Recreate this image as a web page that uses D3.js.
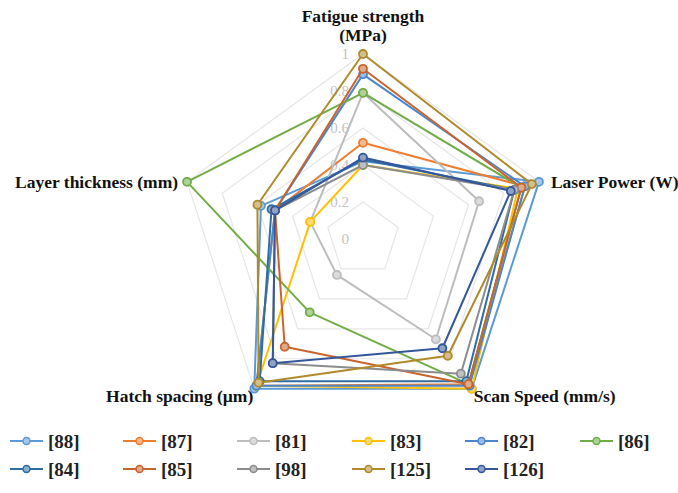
<!DOCTYPE html>
<html>
<head>
<meta charset="utf-8">
<script src="https://cdn.jsdelivr.net/npm/d3@7"></script>
<style>
  html, body { margin: 0; padding: 0; background: #fff; }
  svg { display: block; }
</style>
</head>
<body>
<svg id="chart" width="678" height="493"></svg>
<script>
// Radar axes, clockwise from the top
const axes = ["Fatigue strength (MPa)", "Laser Power (W)", "Scan Speed (mm/s)", "Hatch spacing (µm)", "Layer thickness (mm)"];
const ticks = [0, 0.2, 0.4, 0.6, 0.8, 1];

// Normalised values per study: [fatigue, laser power, scan speed, hatch spacing, layer thickness]
const names = ["[88]", "[87]", "[81]", "[83]", "[82]", "[86]", "[84]", "[85]", "[98]", "[125]", "[126]"];
const s88  = [0.42, 1.00, 1.00, 1.00, 0.58];
const s87  = [0.52, 0.92, 0.97, 0.98, 0.50];
const s81  = [0.79, 0.66, 0.67, 0.24, 0.30];
const s83  = [0.40, 0.88, 1.00, 0.98, 0.30];
const s82  = [0.89, 0.92, 0.98, 0.98, 0.50];
const s86  = [0.79, 0.90, 0.97, 0.49, 1.00];
const s84  = [0.43, 0.86, 0.95, 0.95, 0.52];
const s85  = [0.92, 0.90, 0.97, 0.72, 0.50];
const s98  = [0.40, 0.86, 0.90, 0.83, 0.50];
const s125 = [1.00, 0.96, 0.78, 0.96, 0.60];
const s126 = [0.44, 0.84, 0.73, 0.83, 0.50];
const values = [s88, s87, s81, s83, s82, s86, s84, s85, s98, s125, s126];
const colors = ["#5B9BD5", "#ED7D31", "#BDBDBD", "#FFC000", "#4A86CC", "#70AD47",
                "#2E6DA4", "#C8642E", "#8C8C8C", "#B08A2A", "#34579A"];

const svg = d3.select("#chart");
const cx = 363, cy = 239, R = 185;
const r = d3.scaleLinear().domain([0, 1]).range([0, R]);
const ang = d3.scaleLinear().domain([0, axes.length]).range([0, 2 * Math.PI]);

const g = svg.append("g").attr("transform", `translate(${cx},${cy})`);

const radial = d3.lineRadial()
  .angle((d, i) => ang(i))
  .radius(d => r(d))
  .curve(d3.curveLinearClosed);

// Grid rings
g.append("g").selectAll("path")
  .data(ticks.filter(t => t > 0))
  .join("path")
  .attr("d", t => radial(axes.map(() => t)))
  .attr("fill", "none")
  .attr("stroke", "#e6e6e6")
  .attr("stroke-width", 1.2);

// Ring value labels along the top axis
g.append("g").selectAll("text")
  .data(ticks)
  .join("text")
  .attr("x", -14)
  .attr("y", t => -r(t))
  .attr("dy", "0.35em")
  .attr("text-anchor", "end")
  .attr("font-family", "Liberation Serif, serif")
  .attr("font-size", 15)
  .attr("fill", "#c2c2c2")
  .text(t => d3.format("~g")(t));

const pt = (v, i) => [r(v) * Math.sin(ang(i)), -r(v) * Math.cos(ang(i))];

// Series polygons and markers
const series = g.append("g").selectAll("g")
  .data(values.map((v, k) => ({ v, c: colors[k] })))
  .join("g");

series.append("path")
  .attr("d", d => radial(d.v))
  .attr("fill", "none")
  .attr("stroke", d => d.c)
  .attr("stroke-width", 2)
  .attr("stroke-linejoin", "round");

series.selectAll("circle")
  .data(d => d.v.map((v, i) => ({ p: pt(v, i), c: d.c })))
  .join("circle")
  .attr("cx", d => d.p[0])
  .attr("cy", d => d.p[1])
  .attr("r", 4)
  .attr("fill", d => d3.interpolateRgb(d.c, "#ffffff")(0.45))
  .attr("stroke", d => d.c)
  .attr("stroke-width", 1.8);

// Axis titles
const title = (x, y, anchor, lines) => {
  const t = svg.append("text")
    .attr("x", x).attr("y", y)
    .attr("text-anchor", anchor)
    .attr("font-family", "Liberation Serif, serif")
    .attr("font-size", 17.5)
    .attr("font-weight", "bold")
    .attr("fill", "#111");
  lines.forEach((l, i) => t.append("tspan").attr("x", x).attr("dy", i ? "1.1em" : 0).text(l));
};
const [p0, p1, p2, p3, p4] = axes.map((a, i) => pt(1, i).map((c, j) => c + (j ? cy : cx)));
title(p0[0], 22, "middle", ["Fatigue strength", "(MPa)"]);
title(p1[0] + 12, p1[1] + 6, "start", [axes[1]]);
title(p2[0] + 2, p2[1] + 13, "start", [axes[2]]);
title(p3[0] - 1, p3[1] + 13, "end", [axes[3]]);
title(p4[0] - 9, p4[1] + 6, "end", [axes[4]]);

// Legend
const legX = [10, 123, 237, 352, 465, 580];
const legY = [441, 469];
const leg = svg.append("g").selectAll("g")
  .data(names.map((n, k) => ({ n, c: colors[k], x: legX[k % 6], y: legY[Math.floor(k / 6)] })))
  .join("g")
  .attr("transform", d => `translate(${d.x},${d.y})`);
leg.append("line")
  .attr("x1", 0).attr("x2", 33)
  .attr("stroke", d => d.c).attr("stroke-width", 2);
leg.append("circle")
  .attr("cx", 16.5).attr("r", 3.5)
  .attr("fill", d => d3.interpolateRgb(d.c, "#ffffff")(0.45))
  .attr("stroke", d => d.c).attr("stroke-width", 1.5);
leg.append("text")
  .attr("x", 38).attr("dy", "0.35em")
  .attr("font-family", "Liberation Serif, serif")
  .attr("font-size", 19)
  .attr("font-weight", "bold")
  .attr("fill", "#222")
  .text(d => d.n);
</script>
</body>
</html>
